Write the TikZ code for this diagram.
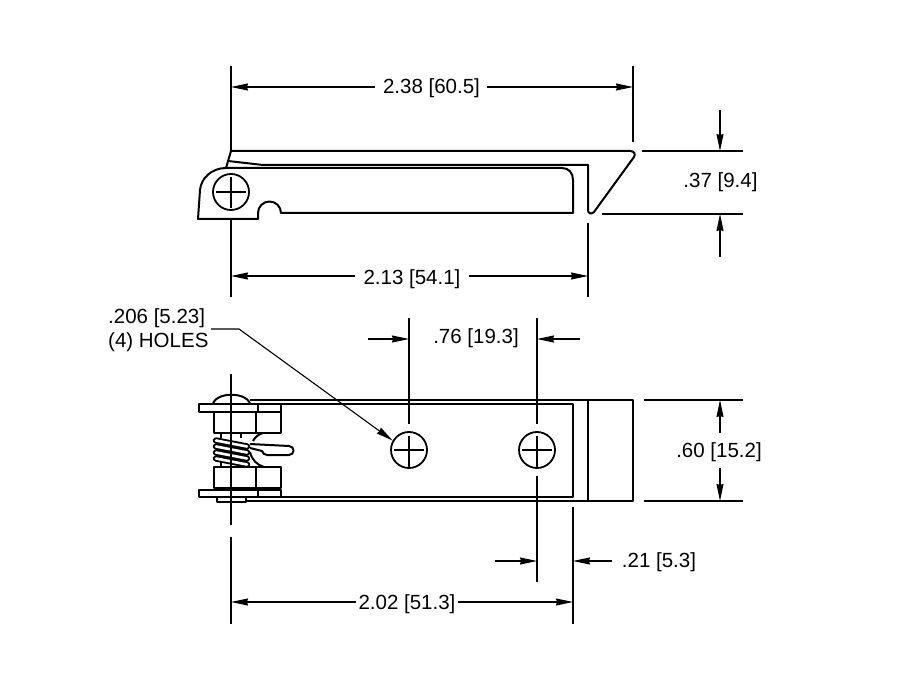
\documentclass[tikz,border=0pt]{standalone}
\usepackage{fontspec}
\setmainfont{Liberation Sans}
\usetikzlibrary{arrows.meta}
\tikzset{
  obj/.style={line width=2pt,line join=round},
  thin line/.style={line width=1.1pt},
  holecirc/.style={circle,draw,line width=1.8pt,minimum size=36pt,inner sep=0pt},
  dimline/.style={line width=1.1pt,-{Stealth[length=17pt,width=7pt,inset=1pt]}},
  dimtext/.style={inner sep=0pt,font=\fontsize{20.5}{24.5}\selectfont,text=black},
  coilout/.style={line width=6.4pt,line cap=round},
  coilin/.style={line width=2.6pt,line cap=round,white}
}
\begin{document}
\begin{tikzpicture}[x=1pt,y=-1pt]
\useasboundingbox[fill=white] (0,0) rectangle (900,695);
% centres of holes
\coordinate (h0) at (231,192);
\coordinate (h1) at (409,450);
\coordinate (h2) at (537,450);
% ---------- side view
\draw[obj] (228,161) -- (263,165) -- (588,165) -- (588,210)
  .. controls (588,213) and (591,215) .. (594,212)
  -- (634,157) .. controls (636,154) and (634,151) .. (630,151)
  -- (231,151) -- (226,168);
\draw[obj] (198,219) -- (200,190) .. controls (201,178) and (212,168) .. (226,168)
  -- (562,168) .. controls (569,168) and (573,173) .. (573,180)
  -- (573,213) -- (281,213) arc[start angle=0,end angle=-180,radius=11.5]
  -- (258,219) -- cycle;
\node[holecirc] (hole0) at (h0) {};
\draw[thin line] (216,192) -- (246,192);
\draw[thin line] (231,177) -- (231,208);
% ---------- plan view
\draw[obj] (250,400) -- (633,400) -- (633,501) -- (246,501);
\draw[obj] (280,404) -- (573,404) -- (573,497) -- (280,497);
\draw[obj] (588,400) -- (588,501);
\node[holecirc] (hole1) at (h1) {};
\node[holecirc] (hole2) at (h2) {};
\draw[thin line] (394,450) -- (424,450) (409,436) -- (409,468);
\draw[thin line] (522,450) -- (552,450) (537,436) -- (537,468);
% hinge
\draw[obj] (213,403) .. controls (218,392) and (245,392) .. (250,403);
\draw[obj] (198.5,403.5) rectangle (280.5,411.5);
\draw[obj] (258,403.5) -- (258,411.5);
\draw[obj] (213.5,412) rectangle (280.5,433);
\draw[obj] (256,412) -- (256,433);
\draw[obj] (213.5,467) rectangle (280.5,488);
\draw[obj] (256,467) -- (256,488);
\draw[obj] (198.5,489.5) rectangle (280.5,497);
\draw[obj] (258,489.5) -- (258,497);
\draw[obj] (217,497) -- (217,502) -- (246,502) -- (246,497);
\draw[obj] (221,433) -- (221,438) (241,433) -- (241,438);
\draw[obj] (221,462) -- (221,467) (241,462) -- (241,467);
\draw[obj] (253,441) .. controls (255,437) and (259,434) .. (263,433);
\draw[obj] (250,452) .. controls (252,460) and (257,465) .. (264,467);
\draw[obj] (250,444) -- (289,446) .. controls (295,446) and (295,455) .. (289,455)
  -- (267,455) .. controls (264,455) and (263,453) .. (262,451) -- (250,448);
\foreach \yy in {440.5,446.5,452.5,458.5}{
  \draw[coilout] (216,\yy) -- (247,\yy+6);
}
\foreach \yy in {440.5,446.5,452.5,458.5}{
  \draw[coilin] (216,\yy) -- (247,\yy+6);
}
% ---------- extension and centre lines
\draw[thin line] (231,66) -- (231,151);
\draw[thin line] (231,219) -- (231,297);
\draw[thin line] (633,66) -- (633,142);
\draw[thin line] (588,223) -- (588,297);
\draw[thin line] (642,151) -- (743,151);
\draw[thin line] (602,214) -- (743,214);
\draw[thin line] (409,318) -- (409,424);
\draw[thin line] (537,318) -- (537,424);
\draw[thin line] (537,476) -- (537,582);
\draw[thin line] (573,507) -- (573,624);
\draw[thin line] (231,374) -- (231,525);
\draw[thin line] (231,537) -- (231,624);
\draw[thin line] (644,400) -- (743,400);
\draw[thin line] (644,501) -- (743,501);
% ---------- dimension texts
\node[dimtext] (d238) at (431.5,88) {2.38 [60.5]};
\node[dimtext] (d37) at (720.5,182) {.37 [9.4]};
\node[dimtext] (d213) at (412,279) {2.13 [54.1]};
\node[dimtext] (d76) at (476,338) {.76 [19.3]};
\node[dimtext] (d60) at (719,452) {.60 [15.2]};
\node[dimtext] (d21) at (659,562.5) {.21 [5.3]};
\node[dimtext] (d202) at (407,604) {2.02 [51.3]};
\node[dimtext,align=left,anchor=west] (dholes) at (108,330) {.206 [5.23]\\(4) HOLES};
% ---------- dimension lines
\coordinate (a1) at (231,87);
\coordinate (a2) at (633,87);
\draw[dimline] (375,87) -- (a1);
\draw[dimline] (487,87) -- (a2);
\coordinate (b1) at (231,276);
\coordinate (b2) at (588,276);
\draw[dimline] (355,276) -- (b1);
\draw[dimline] (469,276) -- (b2);
\coordinate (c1) at (720,151);
\coordinate (c0) at (720,110);
\coordinate (c2) at (720,214);
\coordinate (c3) at (720,257);
\draw[dimline] (c0) -- (c1);
\draw[dimline] (c3) -- (c2);
\coordinate (e0) at (368,339);
\coordinate (e1) at (409,339);
\coordinate (e2) at (580,339);
\coordinate (e3) at (537,339);
\draw[dimline] (e0) -- (e1);
\draw[dimline] (e2) -- (e3);
\coordinate (f0) at (720,433);
\coordinate (f1) at (720,400);
\coordinate (f2) at (720,468);
\coordinate (f3) at (720,501);
\draw[dimline] (f0) -- (f1);
\draw[dimline] (f2) -- (f3);
\coordinate (g0) at (495,561);
\coordinate (g1) at (537,561);
\coordinate (g2) at (612,561);
\coordinate (g3) at (573,561);
\draw[dimline] (g0) -- (g1);
\draw[dimline] (g2) -- (g3);
\coordinate (k1) at (231,602);
\coordinate (k2) at (573,602);
\draw[dimline] (356,602) -- (k1);
\draw[dimline] (458,602) -- (k2);
% leader
\coordinate (l0) at (211,329);
\coordinate (l1) at (239,329);
\draw[dimline] (l0) -- (l1) -- (hole1.150);
\end{tikzpicture}
\end{document}
